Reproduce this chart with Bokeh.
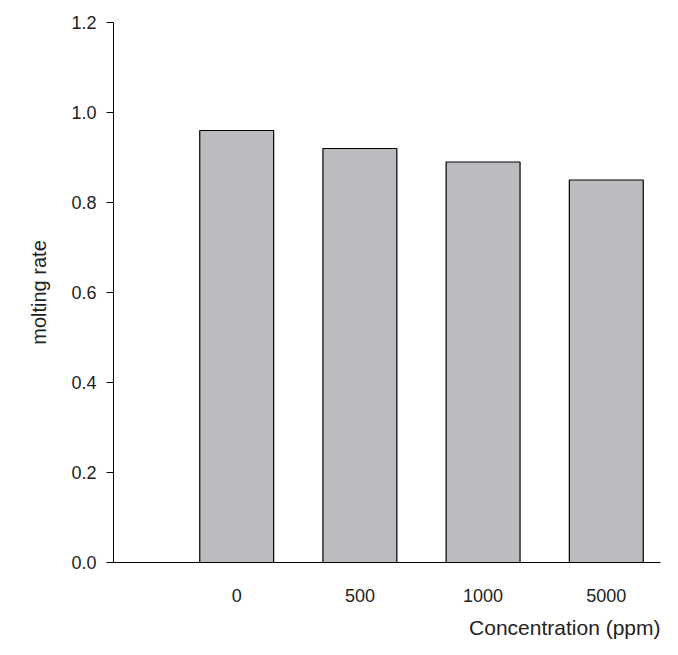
from bokeh.plotting import figure
from bokeh.models import FixedTicker, Range1d, ColumnDataSource, Title
from bokeh.embed import file_html
from bokeh.resources import INLINE

categories = ["0", "500", "1000", "5000"]
rates = [0.96, 0.92, 0.89, 0.85]
y_ticks = [0.0, 0.2, 0.4, 0.6, 0.8, 1.0, 1.2]

xs = list(range(1, len(categories) + 1))
src = ColumnDataSource(dict(x=xs, top=rates))

p = figure(width=670, height=647, output_backend="svg", toolbar_location=None,
           x_range=Range1d(0, 4.44), y_range=Range1d(0, 1.2),
           min_border_left=113, min_border_right=10, min_border_top=22, min_border_bottom=0)
p.vbar(x="x", top="top", width=0.6, source=src, fill_color="#bbbcc0", line_color="black", line_width=1.2)

p.grid.visible = False
p.outline_line_color = None
font = "Liberation Sans"
p.xaxis.ticker = FixedTicker(ticks=xs)
p.xaxis.major_label_overrides = {x: c for x, c in zip(xs, categories)}
p.xaxis.major_tick_line_color = None
p.xaxis.minor_tick_line_color = None
p.yaxis.ticker = FixedTicker(ticks=y_ticks)
p.yaxis.major_label_overrides = {t: f"{t:.1f}" for t in y_ticks}
p.yaxis.minor_tick_line_color = None
p.yaxis.major_tick_out = 7
p.yaxis.major_tick_in = 0
for ax in (p.xaxis, p.yaxis):
    ax.axis_line_color = "black"
    ax.major_label_text_font = font
    ax.major_label_text_font_size = "18px"
    ax.major_label_text_color = "#222222"
    ax.axis_label_text_font = font
    ax.axis_label_text_font_size = "20px"
    ax.axis_label_text_font_style = "normal"
    ax.axis_label_text_color = "#222222"
p.xaxis.major_label_standoff = 20
p.yaxis.major_label_standoff = 10
p.yaxis.axis_label = "molting rate"
p.yaxis.axis_label_standoff = 18
p.add_layout(Title(text="Concentration (ppm)", align="right", text_font=font,
                   text_font_size="21px", text_font_style="normal", text_color="#222222",
                   standoff=18), "below")

open("out.html", "w").write(file_html(p, INLINE))
